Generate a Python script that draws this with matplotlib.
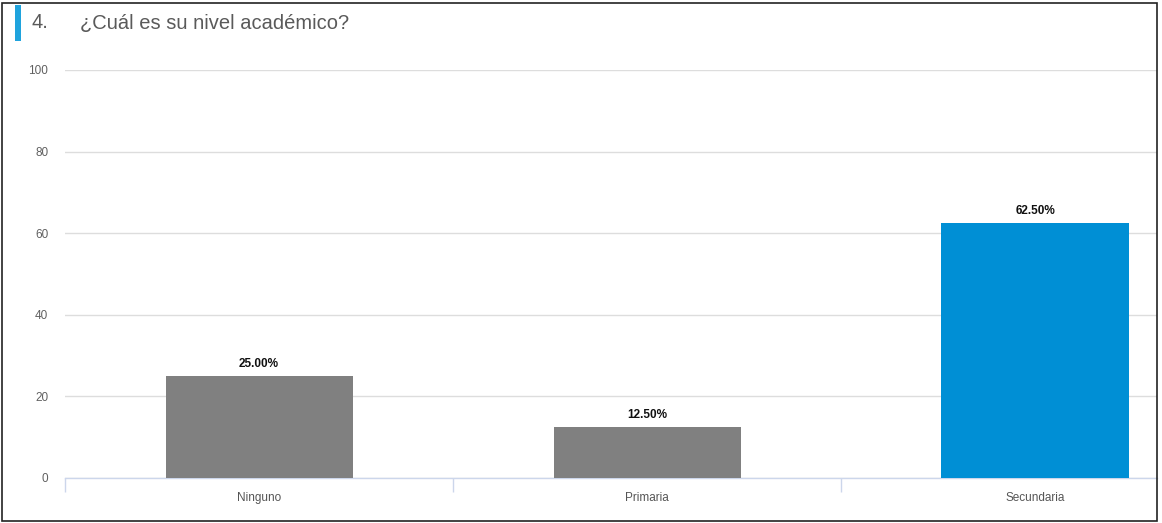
import matplotlib.pyplot as plt
from matplotlib.patches import Rectangle

# data
categorias = ['Ninguno', 'Primaria', 'Secundaria']
porcentajes = [25.0, 12.5, 62.5]
colores = ['#808080', '#808080', '#008fd5']
yticks = [0, 20, 40, 60, 80, 100]

W, H = 1162, 523
fig = plt.figure(figsize=(W / 100, H / 100), dpi=100)
plt.rcParams['font.family'] = ['Liberation Sans', 'DejaVu Sans']

# plot area in pixels: x 65..1157, y 70..478
ax = fig.add_axes([65 / W, 1 - 478 / H, (1157 - 65) / W, (478 - 70) / H])
step = 388.0
xmax = -0.5 + (1157 - 65) / step
x = range(len(categorias))
ax.bar(x, porcentajes, width=187 / step, color=colores, zorder=3)
ax.set_xlim(-0.5, xmax)
ax.set_ylim(0, 100)

for xi, v in zip(x, porcentajes):
    ax.annotate(f'{v:.2f}%', (xi, v), xytext=(0, 4), textcoords='offset points',
                ha='center', va='bottom', fontsize=8.5, fontweight='bold', color='#111111')

# grid + axes look
ax.set_yticks(yticks)
ax.set_yticklabels([str(t) for t in yticks], fontsize=8.5, color='#606060')
ax.yaxis.grid(True, color='#dddddd', linewidth=1, zorder=0)
ax.tick_params(axis='y', length=0, pad=12)
for s in ['top', 'right', 'left']:
    ax.spines[s].set_visible(False)
ax.spines['bottom'].set_color('#ccd6eb')
ax.spines['bottom'].set_linewidth(1)

ax.set_xticks([-0.5, 0.5, 1.5], minor=True)
ax.set_xticks(list(x))
ax.set_xticklabels(categorias, fontsize=8.5, color='#555555')
ax.tick_params(axis='x', which='major', length=0, pad=10)
ax.tick_params(axis='x', which='minor', length=10, color='#ccd6eb', width=1)

# header
fig.add_artist(Rectangle((15 / W, 1 - 41 / H), 6 / W, 36 / H, transform=fig.transFigure,
                         color='#1fa3dd', lw=0))
fig.text(32 / W, 1 - 23 / H, '4.', fontsize=14.5, color='#5a5a5a', va='center')
fig.text(80 / W, 1 - 23 / H, '¿Cuál es su nivel académico?', fontsize=14.5,
         color='#5a5a5a', va='center')

# outer border
fig.add_artist(Rectangle((2.5 / W, 2.5 / H), (1157 - 2.5) / W, (520 - 2.5) / H,
                         transform=fig.transFigure, fill=False, edgecolor='#222222', lw=1.2))

fig.savefig('out.png', dpi=100)
